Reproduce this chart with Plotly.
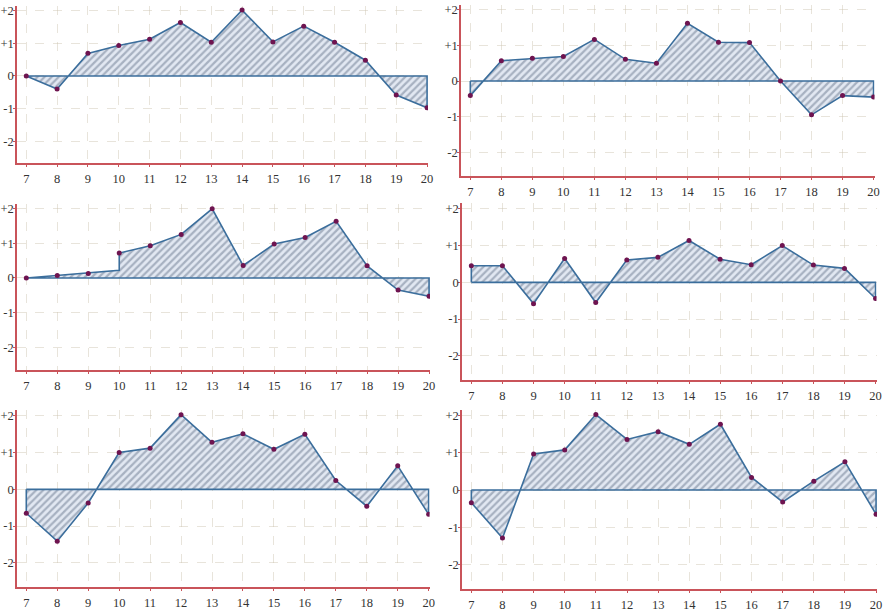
import plotly.graph_objects as go

W, H = 883, 612

x_vals = [7, 8, 9, 10, 11, 12, 13, 14, 15, 16, 17, 18, 19, 20]
y_tickvals = [-2, -1, 0, 1, 2]
y_ticktext = ["-2", "-1", "0", "+1", "+2"]

panel1 = [0.0, -0.40, 0.69, 0.93, 1.12, 1.63, 1.03, 2.01, 1.04, 1.52, 1.03, 0.48, -0.58, -0.97]
panel2 = [-0.41, 0.57, 0.64, 0.69, 1.17, 0.61, 0.50, 1.62, 1.09, 1.08, 0.0, -0.95, -0.41, -0.45]
panel3 = [0.0, 0.07, 0.13, 0.72, 0.93, 1.26, 2.0, 0.36, 0.98, 1.17, 1.64, 0.35, -0.35, -0.53]
panel4 = [0.45, 0.45, -0.58, 0.65, -0.55, 0.61, 0.68, 1.14, 0.63, 0.48, 1.0, 0.47, 0.38, -0.44]
panel5 = [-0.65, -1.41, -0.37, 1.0, 1.12, 2.03, 1.28, 1.51, 1.09, 1.50, 0.24, -0.46, 0.64, -0.68]
panel6 = [-0.34, -1.29, 0.97, 1.08, 2.03, 1.36, 1.57, 1.23, 1.77, 0.34, -0.32, 0.24, 0.76, -0.65]

# panel 3 has a vertical step at x=10 (line reaches 0.22 before jumping to the marker)
panel3_step = {10: 0.22}

panels = [panel1, panel2, panel3, panel4, panel5, panel6]
steps = [{}, {}, panel3_step, {}, {}, {}]

# pixel boxes (left, right, top, bottom) of each plot area
boxes = [
    (17, 428, 5.5, 163.2),
    (461, 874.5, 4.5, 175.7),
    (17, 430, 203.6, 370),
    (462, 876.5, 203.4, 380),
    (17, 429.6, 410.3, 587.1),
    (462, 877, 410.1, 589),
]

X_RANGE = [6.7, 20.03]
Y_RANGE = [-2.66, 2.15]

LINE_C = "#3b6e9c"
MARK_C = "#6e1450"
AXIS_C = "#c9545a"
GRID_C = "rgba(205,195,175,0.45)"

fig = go.Figure()
for i, (vals, step, box) in enumerate(zip(panels, steps, boxes)):
    n = i + 1
    xa = "x" if n == 1 else f"x{n}"
    ya = "y" if n == 1 else f"y{n}"
    px, py = [x_vals[0]], [0.0]
    for xv, yv in zip(x_vals, vals):
        if xv in step:
            px.append(xv)
            py.append(step[xv])
        px.append(xv)
        py.append(yv)
    px += [x_vals[-1], x_vals[0]]
    py += [0.0, 0.0]
    fig.add_trace(go.Scatter(
        x=px, y=py, mode="lines", fill="toself",
        fillpattern=dict(shape="/", fgcolor="#6c7a90", bgcolor="rgba(226,232,242,1)",
                         size=5, solidity=0.45),
        line=dict(color=LINE_C, width=1.6),
        xaxis=xa, yaxis=ya, showlegend=False, hoverinfo="skip"))
    fig.add_trace(go.Scatter(
        x=x_vals, y=vals, mode="markers",
        marker=dict(color=MARK_C, size=5),
        xaxis=xa, yaxis=ya, showlegend=False))

    l, r, t, b = box
    axis_common = dict(
        showline=True, linecolor=AXIS_C, linewidth=1.6,
        showgrid=True, gridcolor=GRID_C, griddash="dash", gridwidth=1,
        zeroline=False, ticks="outside", ticklen=2, tickcolor=AXIS_C,
        tickfont=dict(family="Liberation Serif", size=12.5, color="#333333"),
        automargin=False, fixedrange=True,
    )
    key = "" if n == 1 else str(n)
    fig.layout["xaxis" + key] = dict(
        axis_common, domain=[l / W, r / W], range=X_RANGE,
        tickvals=x_vals, anchor=ya, ticklabelstandoff=1)
    fig.layout["yaxis" + key] = dict(
        axis_common, domain=[1 - b / H, 1 - t / H], range=Y_RANGE,
        tickvals=y_tickvals, ticktext=y_ticktext, anchor=xa, ticklabelstandoff=-3)

fig.update_layout(
    width=W, height=H, margin=dict(l=0, r=0, t=0, b=0),
    paper_bgcolor="white", plot_bgcolor="white", showlegend=False,
)

fig.write_html("out.html", config={"displayModeBar": False},
               post_script="document.body.style.margin='0px';")
